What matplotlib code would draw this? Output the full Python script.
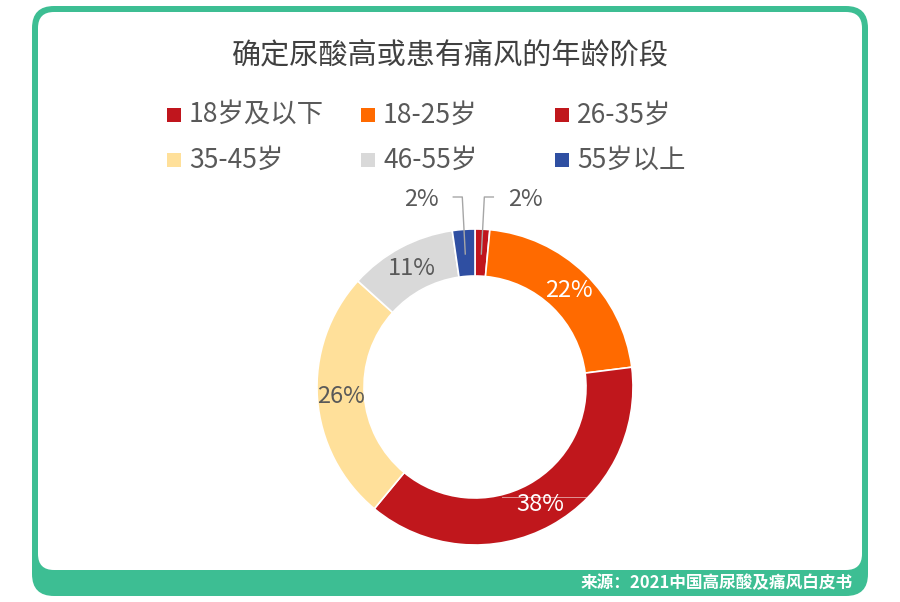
import matplotlib
matplotlib.use("Agg")
import matplotlib.pyplot as plt
from matplotlib.patches import FancyBboxPatch, Rectangle
import numpy as np

plt.rcParams['font.family'] = ['Noto Sans CJK SC', 'DejaVu Sans']

title = "确定尿酸高或患有痛风的年龄阶段"
source = "来源：2021中国高尿酸及痛风白皮书"
categories = ["18岁及以下", "18-25岁", "26-35岁", "35-45岁", "46-55岁", "55岁以上"]
values = [1.5, 21.5, 38.0, 25.7, 11.0, 2.3]
value_labels = ["2%", "22%", "38%", "26%", "11%", "2%"]
colors = ["#C0151D", "#FF6A00", "#C0171C", "#FFE09A", "#D9D9D9", "#2F4FA2"]
label_colors = ["#595959", "white", "white", "#595959", "#595959", "#595959"]

W, H = 900, 602
fig = plt.figure(figsize=(W / 100, H / 100), dpi=100)
fig.patch.set_facecolor("white")

# frame axes in pixel coordinates
bg = fig.add_axes([0, 0, 1, 1])
bg.set_xlim(0, W)
bg.set_ylim(H, 0)
bg.axis("off")
green = "#3DBE93"
bg.add_patch(FancyBboxPatch((32, 6), 836, 590, boxstyle="round,pad=0,rounding_size=22",
                            facecolor=green, edgecolor="none"))
bg.add_patch(FancyBboxPatch((38, 12), 824, 558, boxstyle="round,pad=0,rounding_size=16",
                            facecolor="white", edgecolor="none"))
bg.text(450, 55, title, ha="center", va="center", fontsize=21, color="#404040")
bg.text(853, 583, source, ha="right", va="center", fontsize=12, color="white", fontweight="bold")

# legend
col_x = [167, 361, 555]
row_y = [115, 160]
for i, (cat, c) in enumerate(zip(categories, colors)):
    x = col_x[i % 3]
    y = row_y[i // 3]
    bg.add_patch(Rectangle((x, y - 7), 14, 14, facecolor=c, edgecolor="none"))
    bg.text(x + 22, y, cat, ha="left", va="center", fontsize=19, color="#595959")

# donut
cx, cy, R = 475, 387, 158
half = 200
ax = fig.add_axes([(cx - half) / W, (H - cy - half) / H, 2 * half / W, 2 * half / H])
ax.set_facecolor("none")
wedges, _ = ax.pie(values, radius=R, startangle=90, counterclock=False, colors=colors,
                   wedgeprops=dict(width=47, edgecolor="white", linewidth=1.2))
ax.set_xlim(-half, half)
ax.set_ylim(-half, half)
ax.set_aspect("equal")
ax.axis("off")

rmid = R - 47 / 2
for i, w in enumerate(wedges):
    ang = np.deg2rad((w.theta1 + w.theta2) / 2)
    mx, my = rmid * np.cos(ang), rmid * np.sin(ang)
    if values[i] < 5:
        side = -1 if mx < 0 else 1
        ly = R + 32
        ax.plot([mx, mx + side * 3, mx + side * 12], [R - 25, ly, ly], color="#A6A6A6", lw=1)
        ax.text(mx + side * 44, ly - 2, value_labels[i], ha="center", va="center",
                fontsize=17, color=label_colors[i])
    else:
        ax.text(mx, my, value_labels[i], ha="center", va="center", fontsize=17,
                color=label_colors[i])
        if values[i] > 30:
            ax.plot([mx - 38, mx + 46], [my + 8, my + 8], color="#E9B4B4", lw=0.7, alpha=0.8)

fig.savefig("out.png", dpi=100, facecolor="white")
